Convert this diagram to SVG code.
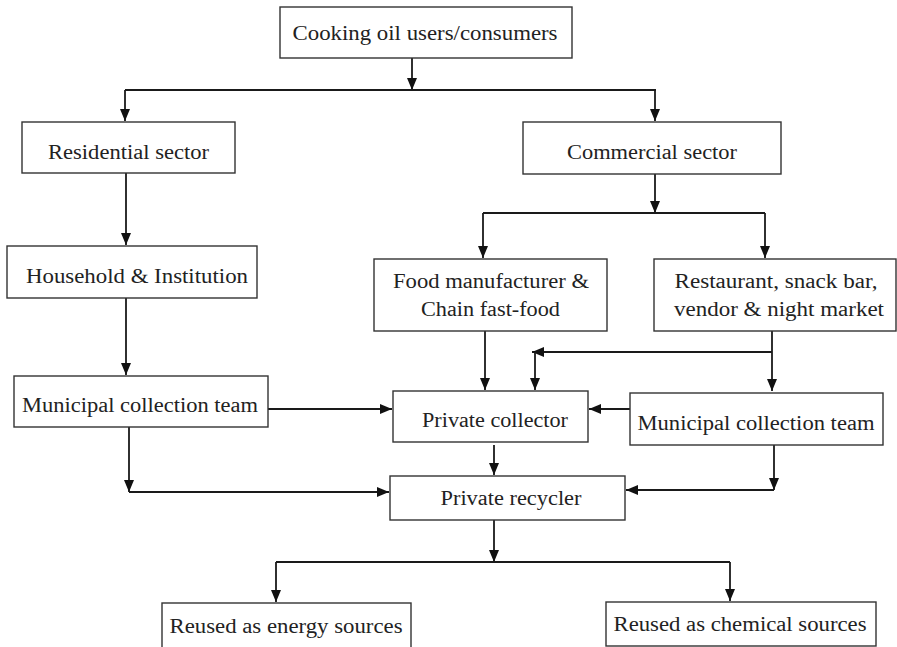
<svg xmlns="http://www.w3.org/2000/svg" width="897" height="647" viewBox="0 0 897 647">
<style>
.box{fill:#fff;stroke:#333;stroke-width:1.4}
.t{font-family:"Liberation Serif","Times New Roman",serif;font-size:20.5px;fill:#222;text-anchor:middle}
.c{fill:none;stroke:#1a1a1a;stroke-width:1.8}
.a{marker-end:url(#ah)}
</style>
<defs>
<marker id="ah" markerUnits="userSpaceOnUse" markerWidth="12" markerHeight="12" viewBox="0 0 12 12" refX="12" refY="6" orient="auto">
<path d="M0,1 L12,6 L0,11 Z" fill="#111"/>
</marker>
</defs>
<rect width="897" height="647" fill="#fff"/>
<g id="connectors">
<line class="c a" x1="412" y1="58" x2="412" y2="90"/>
<line class="c" x1="125" y1="90" x2="656" y2="90" stroke="#555"/>
<line class="c a" x1="125" y1="90" x2="125" y2="121"/>
<line class="c a" x1="655" y1="90" x2="655" y2="121"/>
<line class="c a" x1="126" y1="173" x2="126" y2="245"/>
<line class="c a" x1="126" y1="298" x2="126" y2="375"/>
<line class="c a" x1="268" y1="409" x2="392" y2="409"/>
<line class="c a" x1="129" y1="427" x2="129" y2="492"/>
<line class="c a" x1="129" y1="492" x2="389" y2="492"/>
<line class="c a" x1="655" y1="174" x2="655" y2="213"/>
<line class="c" x1="483" y1="213" x2="765" y2="213"/>
<line class="c a" x1="483" y1="213" x2="483" y2="258"/>
<line class="c a" x1="765" y1="213" x2="765" y2="258"/>
<line class="c a" x1="485" y1="331" x2="485" y2="390"/>
<line class="c a" x1="772" y1="331" x2="772" y2="391"/>
<line class="c a" x1="772" y1="352" x2="532" y2="352"/>
<line class="c a" x1="535" y1="352" x2="535" y2="390"/>
<line class="c a" x1="630" y1="409" x2="589" y2="409"/>
<line class="c a" x1="494" y1="445" x2="494" y2="475"/>
<line class="c a" x1="774" y1="445" x2="774" y2="490"/>
<line class="c a" x1="774" y1="490" x2="626" y2="490"/>
<line class="c a" x1="494" y1="520" x2="494" y2="562"/>
<line class="c" x1="276" y1="562" x2="730" y2="562"/>
<line class="c a" x1="276" y1="562" x2="276" y2="602"/>
<line class="c a" x1="730" y1="562" x2="730" y2="601"/>
</g>
<g id="n1"><rect class="box" x="280" y="7" width="292" height="51"/><text class="t" x="425" y="40" textLength="265" lengthAdjust="spacingAndGlyphs">Cooking oil users/consumers</text></g>
<g id="n2"><rect class="box" x="22" y="122" width="213" height="51"/><text class="t" x="128.5" y="159" textLength="161" lengthAdjust="spacingAndGlyphs">Residential sector</text></g>
<g id="n3"><rect class="box" x="523" y="122" width="258" height="52"/><text class="t" x="652" y="159" textLength="170" lengthAdjust="spacingAndGlyphs">Commercial sector</text></g>
<g id="n4"><rect class="box" x="7" y="246" width="250" height="52"/><text class="t" x="137" y="283" textLength="222" lengthAdjust="spacingAndGlyphs">Household &amp; Institution</text></g>
<g id="n5"><rect class="box" x="374" y="259" width="233" height="72"/><text class="t" x="491" y="288" textLength="196" lengthAdjust="spacingAndGlyphs">Food manufacturer &amp;</text><text class="t" x="490.5" y="316" textLength="139" lengthAdjust="spacingAndGlyphs">Chain fast-food</text></g>
<g id="n6"><rect class="box" x="654" y="259" width="242" height="72"/><text class="t" x="776" y="288" textLength="203" lengthAdjust="spacingAndGlyphs">Restaurant, snack bar,</text><text class="t" x="779" y="316" textLength="210" lengthAdjust="spacingAndGlyphs">vendor &amp; night market</text></g>
<g id="n7"><rect class="box" x="14" y="376" width="254" height="51"/><text class="t" x="140" y="412" textLength="236" lengthAdjust="spacingAndGlyphs">Municipal collection team</text></g>
<g id="n8"><rect class="box" x="393" y="391" width="195" height="51"/><text class="t" x="495" y="427" textLength="146" lengthAdjust="spacingAndGlyphs">Private collector</text></g>
<g id="n9"><rect class="box" x="630" y="393" width="253" height="52"/><text class="t" x="756" y="430" textLength="237" lengthAdjust="spacingAndGlyphs">Municipal collection team</text></g>
<g id="n10"><rect class="box" x="390" y="476" width="235" height="44"/><text class="t" x="511" y="505" textLength="141" lengthAdjust="spacingAndGlyphs">Private recycler</text></g>
<g id="n11"><rect class="box" x="162" y="603" width="249" height="50"/><text class="t" x="286" y="633" textLength="233" lengthAdjust="spacingAndGlyphs">Reused as energy sources</text></g>
<g id="n12"><rect class="box" x="606" y="602" width="270" height="44"/><text class="t" x="740" y="631" textLength="253" lengthAdjust="spacingAndGlyphs">Reused as chemical sources</text></g>
</svg>
